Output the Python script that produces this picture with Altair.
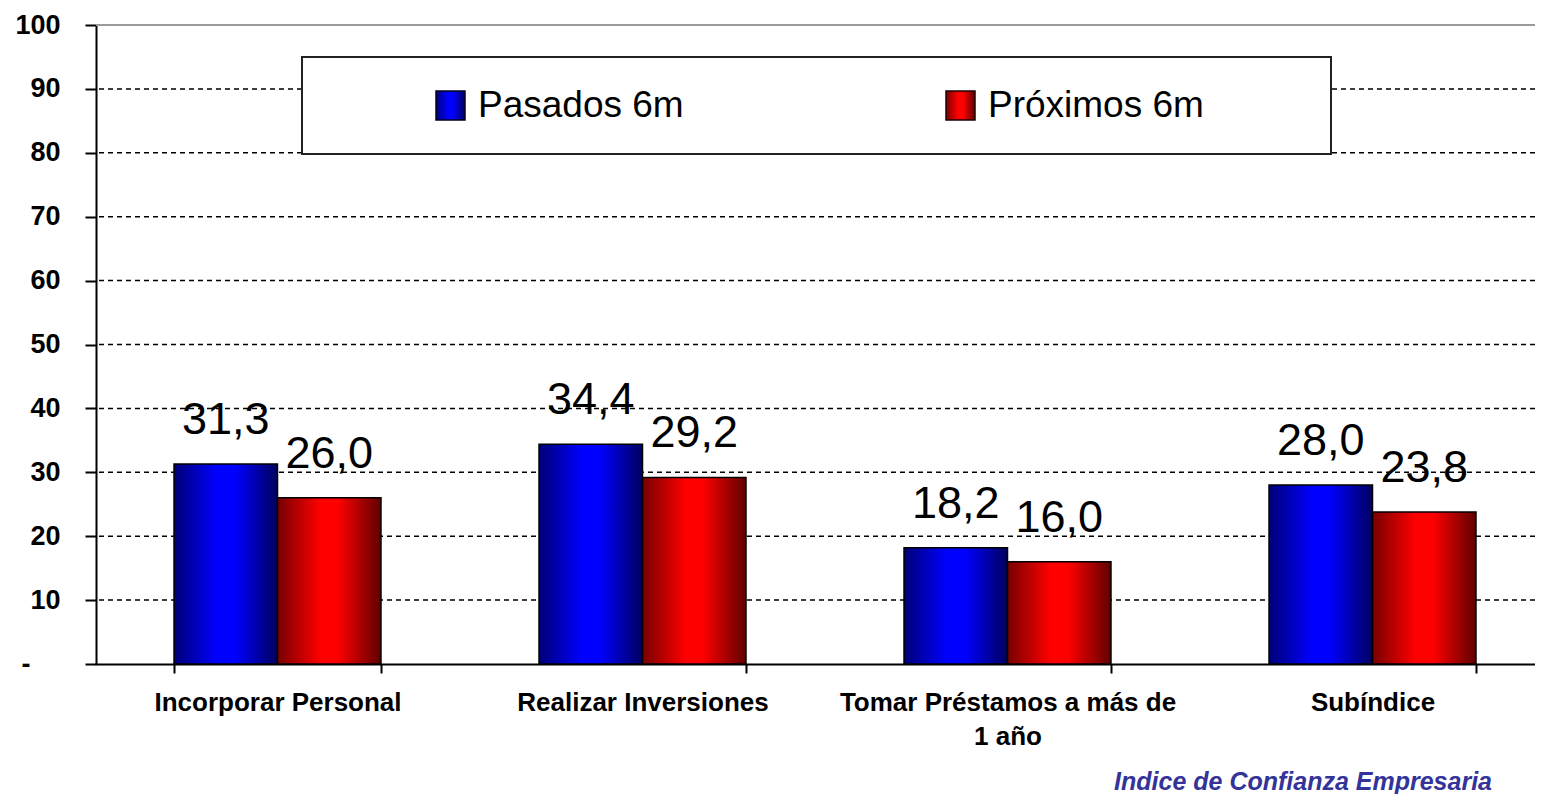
import altair as alt
import pandas as pd

categories = ["Incorporar Personal", "Realizar Inversiones",
              "Tomar Préstamos a más de 1 año", "Subíndice"]
series = ["Pasados 6m", "Próximos 6m"]
pasados = [31.3, 34.4, 18.2, 28.0]
proximos = [26.0, 29.2, 16.0, 23.8]
y_ticks = [0, 10, 20, 30, 40, 50, 60, 70, 80, 90, 100]
grid_values = [10, 20, 30, 40, 50, 60, 70, 80, 90]
footer_text = "Indice de Confianza Empresaria"

rows = []
for c, a, b in zip(categories, pasados, proximos):
    rows.append({"cat": c, "serie": series[0], "valor": a})
    rows.append({"cat": c, "serie": series[1], "valor": b})
df = pd.DataFrame(rows)
df["etiqueta"] = df["valor"].map(lambda v: f"{v:.1f}".replace(".", ","))

FONT = "Liberation Sans"


def grad(dark1, bright, dark2):
    return alt.Gradient(
        gradient="linear", x1=0, x2=1, y1=0, y2=0,
        stops=[alt.GradientStop(color=dark1, offset=0),
               alt.GradientStop(color=bright, offset=0.42),
               alt.GradientStop(color=bright, offset=0.58),
               alt.GradientStop(color=dark2, offset=1)])


blue_grad = grad("#000078", "#0000ff", "#000060")
red_grad = grad("#780000", "#ff0000", "#600000")

wrap_expr = ("datum.label == 'Tomar Préstamos a más de 1 año' ? "
             "['Tomar Préstamos a más de', '1 año'] : datum.label")

x_enc = alt.X("cat:N", sort=categories,
              scale=alt.Scale(range=[-1, 1459], paddingInner=0.433, paddingOuter=0.2165),
              axis=alt.Axis(title=None, labelAngle=0, labelExpr=wrap_expr,
                            tickBand="extent", tickSize=9, tickColor="black", tickWidth=2,
                            domainColor="black", domainWidth=2,
                            labelFont=FONT, labelFontSize=26, labelFontWeight="bold",
                            labelColor="black", labelPadding=16, labelLineHeight=34,
                            labelLimit=0))
xoff_enc = alt.XOffset("serie:N", sort=series,
                       scale=alt.Scale(domain=series, paddingInner=0, paddingOuter=0))
y_enc = alt.Y("valor:Q", scale=alt.Scale(domain=[0, 100], nice=False),
              axis=alt.Axis(values=y_ticks, title=None, grid=False,
                            labelExpr="datum.value == 0 ? '-' : datum.label",
                            labelFont=FONT, labelFontSize=27, labelFontWeight="bold",
                            labelColor="black",
                            labelPadding={"condition": {"test": "datum.value == 0", "value": 55},
                                          "value": 25},
                            tickSize=11, tickColor="black", tickWidth=2,
                            domainColor="black", domainWidth=2))

base = alt.Chart(df)

grid = alt.Chart(pd.DataFrame({"valor": grid_values})).mark_rule(
    color="black", strokeDash=[5, 4], strokeWidth=1.5
).encode(y=alt.Y("valor:Q"))

top_line = alt.Chart(pd.DataFrame({"valor": [100]})).mark_rule(
    color="#9a9a9a", strokeWidth=2
).encode(y=alt.Y("valor:Q"))

bars_blue = base.transform_filter(alt.datum.serie == series[0]).mark_bar(
    fill=blue_grad, stroke="black", strokeWidth=1.5
).encode(x=x_enc, xOffset=xoff_enc, y=y_enc)

bars_red = base.transform_filter(alt.datum.serie == series[1]).mark_bar(
    fill=red_grad, stroke="black", strokeWidth=1.5
).encode(x=x_enc, xOffset=xoff_enc, y=y_enc)

labels = base.mark_text(
    font=FONT, fontSize=45, color="black", align="center",
    baseline="alphabetic", dy=-30
).encode(x=x_enc, xOffset=xoff_enc, y=y_enc, text="etiqueta:N")

one = pd.DataFrame({"k": [1]})
legend_box = alt.Chart(one).mark_rect(
    fill="white", stroke="#222222", strokeWidth=2
).encode(x=alt.value(206), x2=alt.value(1235), y=alt.value(32), y2=alt.value(129))

leg_sq1 = alt.Chart(one).mark_rect(fill=blue_grad, stroke="#000020", strokeWidth=1.5).encode(
    x=alt.value(340), x2=alt.value(369), y=alt.value(66), y2=alt.value(95))
leg_sq2 = alt.Chart(one).mark_rect(fill=red_grad, stroke="#200000", strokeWidth=1.5).encode(
    x=alt.value(850), x2=alt.value(879), y=alt.value(66), y2=alt.value(95))

leg_txt1 = alt.Chart(pd.DataFrame({"t": [series[0]]})).mark_text(
    font=FONT, fontSize=37, align="left", baseline="middle", color="black"
).encode(x=alt.value(382), y=alt.value(81), text="t:N")
leg_txt2 = alt.Chart(pd.DataFrame({"t": [series[1]]})).mark_text(
    font=FONT, fontSize=37, align="left", baseline="middle", color="black"
).encode(x=alt.value(892), y=alt.value(81), text="t:N")

footer = alt.Chart(pd.DataFrame({"t": [footer_text]})).mark_text(
    font=FONT, fontSize=25, fontWeight="bold", fontStyle="italic",
    color="#333399", align="right", baseline="alphabetic"
).encode(x=alt.value(1396), y=alt.value(765), text="t:N")

chart = alt.layer(
    grid, top_line, bars_blue, bars_red, labels,
    legend_box, leg_sq1, leg_sq2, leg_txt1, leg_txt2, footer
).properties(
    width=1439, height=639,
    autosize=alt.AutoSizeParams(type="none"),
    padding={"left": 88, "top": 17, "right": 0, "bottom": 130},
).configure_view(stroke=None).configure(background="white")

chart.save("out.html", embed_options={"renderer": "svg", "actions": False})
